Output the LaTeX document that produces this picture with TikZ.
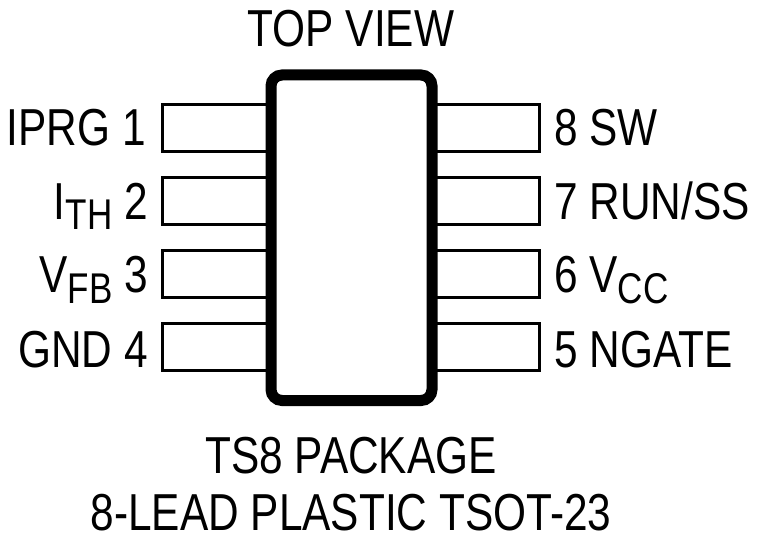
\documentclass[tikz,border=0pt]{standalone}
\usepackage{fontspec}
\setmainfont{Liberation Sans}
\newcommand{\lbl}[1]{\scalebox{0.815}[1]{#1}}
\newcommand{\subs}[1]{\raisebox{-10pt}{\fontsize{43}{43}\selectfont #1}}
\tikzset{
  pin/.style={draw=black,line width=3pt,fill=white,inner sep=0pt,minimum width=108pt,minimum height=47.5pt},
  pinlabel/.style={inner sep=0pt,font=\fontsize{52}{54}\selectfont},
  body/.style={draw=black,line width=11pt,rounded corners=11pt,fill=white,inner sep=0pt},
  title/.style={inner sep=0pt,anchor=base,font=\fontsize{52}{54}\selectfont}
}
\begin{document}
\begin{tikzpicture}[x=1pt,y=-1pt]
\useasboundingbox (0,0) rectangle (760,545);
\foreach \n/\y in {a/128,b/201,c/274,d/347}{
  \node[pin] (l\n) at (216.5,\y) {};
  \node[pin] (r\n) at (485.5,\y) {};
}
\node[body,minimum width=161pt,minimum height=325.5pt] (chip) at (351.5,237.75) {};
\node[title] (top) at (351,47) {\lbl{TOP VIEW}};
\node[pinlabel,anchor=base east] (t1) at (146,146) {\lbl{IPRG 1}};
\node[pinlabel,anchor=base east] (t2) at (148,220) {\lbl{I\subs{TH} 2}};
\node[pinlabel,anchor=base east] (t3) at (148,293) {\lbl{V\subs{FB} 3}};
\node[pinlabel,anchor=base east] (t4) at (148,367) {\lbl{GND 4}};
\node[pinlabel,anchor=base west] (t8) at (554,146) {\lbl{8 SW}};
\node[pinlabel,anchor=base west] (t7) at (554,220) {\lbl{7 RUN/SS}};
\node[pinlabel,anchor=base west] (t6) at (554,293) {\lbl{6 V\subs{CC}}};
\node[pinlabel,anchor=base west] (t5) at (554,367) {\lbl{5 NGATE}};
\node[title] (pk) at (351,473) {\lbl{TS8 PACKAGE}};
\node[title] (ld) at (351,530) {\lbl{8-LEAD PLASTIC TSOT-23}};
\end{tikzpicture}
\end{document}
